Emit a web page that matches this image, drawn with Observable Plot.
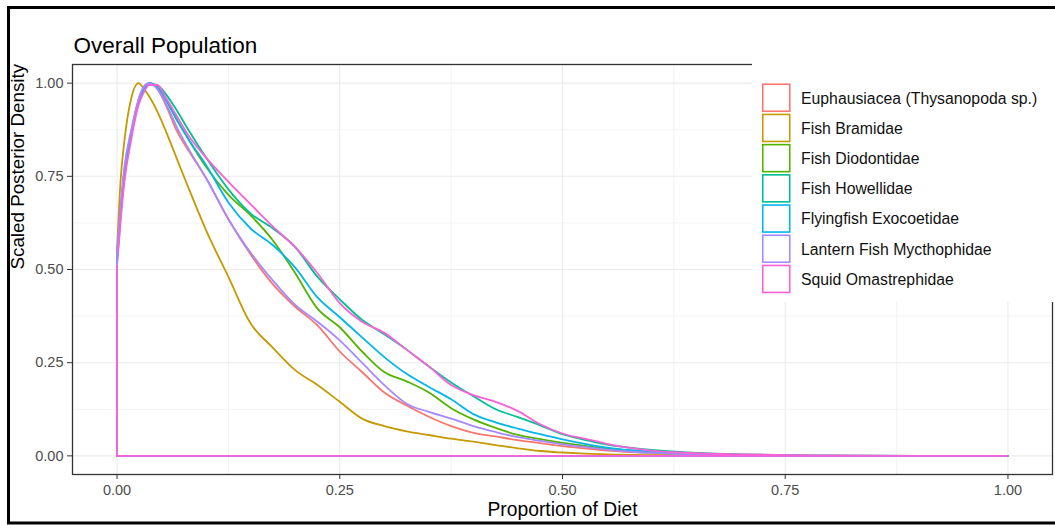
<!DOCTYPE html>
<html>
<head>
<meta charset="utf-8">
<script src="https://cdn.jsdelivr.net/npm/d3@7"></script>
<script src="https://cdn.jsdelivr.net/npm/@observablehq/plot@0.6"></script>
<style>
  body { margin: 0; background: #fff; }
  #chart { width: 1055px; height: 525px; overflow: hidden; }
</style>
</head>
<body>
<div id="chart"></div>
<script>
// ---- Data ----
const titleText = "Overall Population";
const xLabel = "Proportion of Diet";
const yLabel = "Scaled Posterior Density";

const species = [
  "Euphausiacea (Thysanopoda sp.)",
  "Fish Bramidae",
  "Fish Diodontidae",
  "Fish Howellidae",
  "Flyingfish Exocoetidae",
  "Lantern Fish Mycthophidae",
  "Squid Omastrephidae"
];
const colors = ["#F8766D", "#C49A00", "#53B400", "#00C094", "#00B6EB", "#A58AFF", "#FB61D7"];

const xTicks = [0, 0.25, 0.5, 0.75, 1];
const yTicks = [0, 0.25, 0.5, 0.75, 1];
const minorTicks = [0.125, 0.375, 0.625, 0.875];

const proportionGrid = [0, 0.004, 0.008, 0.016, 0.024, 0.03, 0.036, 0.045, 0.055, 0.0675, 0.08, 0.1, 0.125, 0.15, 0.175, 0.2, 0.225, 0.25, 0.275, 0.3, 0.325, 0.35, 0.375, 0.4, 0.425, 0.45, 0.475, 0.5, 0.525, 0.55, 0.6, 0.65, 0.7, 0.75, 0.8, 0.9, 1.0];

const euphausiacea = [0.54, 0.66, 0.76, 0.87, 0.955, 0.99, 1.0, 0.985, 0.94, 0.87, 0.82, 0.745, 0.635, 0.54, 0.46, 0.40, 0.35, 0.28, 0.225, 0.17, 0.135, 0.105, 0.08, 0.062, 0.052, 0.042, 0.034, 0.026, 0.02, 0.014, 0.007, 0.003, 0.001, 0.0005, 0, 0, 0];
const bramidae = [0.55, 0.74, 0.84, 0.96, 1.0, 0.985, 0.965, 0.925, 0.87, 0.795, 0.72, 0.605, 0.48, 0.355, 0.29, 0.23, 0.19, 0.145, 0.10, 0.08, 0.066, 0.056, 0.046, 0.038, 0.029, 0.02, 0.013, 0.009, 0.006, 0.004, 0.002, 0.001, 0.0005, 0, 0, 0, 0];
const diodontidae = [0.53, 0.65, 0.75, 0.865, 0.95, 0.985, 1.0, 0.99, 0.955, 0.9, 0.85, 0.775, 0.70, 0.645, 0.578, 0.49, 0.395, 0.345, 0.28, 0.225, 0.20, 0.17, 0.128, 0.098, 0.075, 0.056, 0.045, 0.035, 0.027, 0.02, 0.01, 0.005, 0.002, 0.001, 0, 0, 0];
const howellidae = [0.52, 0.64, 0.74, 0.86, 0.945, 0.98, 0.998, 0.995, 0.97, 0.925, 0.875, 0.80, 0.715, 0.65, 0.61, 0.56, 0.48, 0.42, 0.365, 0.326, 0.285, 0.24, 0.197, 0.16, 0.125, 0.104, 0.082, 0.058, 0.043, 0.03, 0.016, 0.008, 0.004, 0.002, 0.001, 0, 0];
const exocoetidae = [0.54, 0.66, 0.76, 0.865, 0.95, 0.985, 1.0, 0.99, 0.955, 0.9, 0.85, 0.78, 0.68, 0.61, 0.565, 0.505, 0.425, 0.372, 0.318, 0.265, 0.22, 0.185, 0.152, 0.112, 0.09, 0.073, 0.058, 0.044, 0.032, 0.022, 0.011, 0.005, 0.002, 0.001, 0, 0, 0];
const myctophidae = [0.55, 0.67, 0.77, 0.875, 0.955, 0.99, 1.0, 0.985, 0.945, 0.88, 0.825, 0.745, 0.635, 0.545, 0.47, 0.405, 0.36, 0.31, 0.25, 0.19, 0.14, 0.118, 0.10, 0.08, 0.064, 0.05, 0.04, 0.031, 0.024, 0.017, 0.008, 0.004, 0.002, 0.001, 0, 0, 0];
const omastrephidae = [0.51, 0.63, 0.73, 0.85, 0.94, 0.975, 0.995, 0.995, 0.96, 0.91, 0.86, 0.80, 0.735, 0.675, 0.615, 0.56, 0.49, 0.41, 0.36, 0.33, 0.285, 0.24, 0.19, 0.163, 0.145, 0.12, 0.085, 0.06, 0.046, 0.032, 0.014, 0.007, 0.004, 0.002, 0.001, 0, 0];

// ---- Build table ----
const seriesValues = [euphausiacea, bramidae, diodontidae, howellidae, exocoetidae, myctophidae, omastrephidae];
const rows = species.flatMap((s, i) => proportionGrid.map((x, j) => ({species: s, x, y: seriesValues[i][j]})));
const starts = species.map((s, i) => ({species: s, y: seriesValues[i][0]}));

const FONT = "'Liberation Sans', Arial, Helvetica, sans-serif";

const plot = Plot.plot({
  width: 1055,
  height: 525,
  marginLeft: 72,
  marginRight: 3,
  marginTop: 64,
  marginBottom: 51,
  style: {fontFamily: FONT, background: "#fff", overflow: "visible"},
  x: {domain: [-0.05, 1.05]},
  y: {domain: [-0.05, 1.05]},
  color: {domain: species, range: colors},
  marks: [
    Plot.gridX(minorTicks, {stroke: "#ebebeb", strokeOpacity: 1, strokeWidth: 0.6}),
    Plot.gridY(minorTicks, {stroke: "#ebebeb", strokeOpacity: 1, strokeWidth: 0.6}),
    Plot.gridX(xTicks, {stroke: "#ebebeb", strokeOpacity: 1, strokeWidth: 1.1}),
    Plot.gridY(yTicks, {stroke: "#ebebeb", strokeOpacity: 1, strokeWidth: 1.1}),
    Plot.line(rows, {x: "x", y: "y", z: "species", stroke: "species", curve: "monotone-x", strokeWidth: 1.8}),
    Plot.ruleX(starts, {x: () => 0, y1: () => 0, y2: "y", stroke: "species", strokeWidth: 1.8}),
    Plot.ruleY(starts, {y: () => 0, x1: () => 0, x2: () => 1, stroke: "species", strokeWidth: 1.8}),
    Plot.frame({stroke: "#333", strokeWidth: 1.3}),
    Plot.axisX(xTicks, {tickFormat: d3.format(".2f"), tickSize: 5, tickPadding: 5, fontSize: 14.5, fill: "#4d4d4d", stroke: "#333", label: null}),
    Plot.axisY(yTicks, {tickFormat: d3.format(".2f"), tickSize: 5, tickPadding: 4, fontSize: 14.5, fill: "#4d4d4d", stroke: "#333", label: null}),
    Plot.text([xLabel], {text: d => d, frameAnchor: "bottom", dy: 41, fontSize: 19.3, fill: "#000"}),
    Plot.text([yLabel], {text: d => d, frameAnchor: "left", dx: -55, rotate: -90, fontSize: 18.8, fill: "#000"}),
    Plot.text([titleText], {text: d => d, frameAnchor: "top-left", dx: 1, dy: -27, textAnchor: "start", fontSize: 22.5, fill: "#000"})
  ]
});

// ---- Legend (inside top-right, white background covering panel border) ----
const svg = d3.select(plot);
const lg = svg.append("g").attr("font-family", FONT).attr("text-anchor", "start");
lg.append("rect").attr("x", 752).attr("y", 58).attr("width", 320).attr("height", 244).attr("fill", "#fff");
species.forEach((s, i) => {
  const top = 83.5 + i * 30.2;
  lg.append("rect")
    .attr("x", 762.75).attr("y", top + 0.75)
    .attr("width", 27).attr("height", 27)
    .attr("fill", "#fff").attr("stroke", colors[i]).attr("stroke-width", 1.6);
  lg.append("text")
    .attr("x", 801).attr("y", top + 14.5)
    .attr("text-anchor", "start")
    .attr("dominant-baseline", "central")
    .attr("font-size", 15.8).attr("fill", "#111")
    .text(s);
});

// ---- Outer black frame of the figure ----
svg.append("rect")
  .attr("x", 8.5).attr("y", 7.5).attr("width", 1100).attr("height", 515.5)
  .attr("fill", "none").attr("stroke", "#000").attr("stroke-width", 3);

document.getElementById("chart").appendChild(plot);
</script>
</body>
</html>
